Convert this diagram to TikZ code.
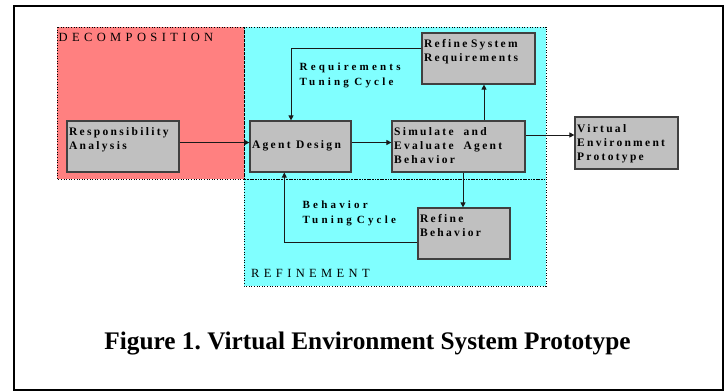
\documentclass[tikz,border=0pt]{standalone}
\usepackage{fontspec}
\setmainfont{Liberation Serif}
% tracked (letter-spaced) faces for the stage boxes and region titles
\newfontfamily\trackedbold[LetterSpace=20]{Liberation Serif}
\newfontfamily\trackedcaps[LetterSpace=35]{Liberation Serif}
\newfontfamily\cyclefont[LetterSpace=29]{Liberation Serif}
% explicit gap between words of tracked text
\newcommand\wgap[1]{\hspace{#1pt}}
\usetikzlibrary{arrows.meta}

\definecolor{decompred}{HTML}{FF8080}
\definecolor{refinecyan}{HTML}{80FFFF}
\definecolor{boxgray}{HTML}{C0C0C0}
\definecolor{boxline}{HTML}{404040}
\definecolor{wire}{HTML}{1A1A1A}

\begin{document}
\frenchspacing
\begin{tikzpicture}[x=1pt,y=-1pt,
  region/.style={draw=black, line width=0.7pt, dash pattern=on 1pt off 1.6pt},
  stage/.style={rectangle, draw=boxline, fill=boxgray, line width=1.2pt, inner sep=0pt},
  stagetext/.style={anchor=base west, inner sep=0pt, text width=120pt, align=left,
    font=\trackedbold\bfseries\fontsize{11.5}{14}\selectfont},
  cyclelabel/.style={anchor=base west, inner sep=0pt, text width=110pt, align=left,
    font=\cyclefont\bfseries\fontsize{11}{15}\selectfont},
  regionlabel/.style={anchor=base west, inner sep=0pt,
    font=\trackedcaps\fontsize{12.5}{14}\selectfont},
  flow/.style={draw=wire, line width=0.9pt, -{Triangle[length=5pt,width=5pt]}}
]
\useasboundingbox (0,0) rectangle (726,391);

% outer frame
\draw[line width=2pt] (14,6) rectangle (723,390);

% process regions
\fill[decompred]  (57,27)  rectangle (244,179);
\fill[refinecyan] (244,27) rectangle (546,286);
\draw[region] (57,27)  rectangle (244,179);
\draw[region] (244,27) rectangle (546,179);
\draw[region] (244,179) rectangle (546,286);

\node[regionlabel] (decomp-title) at (58.5,41.7) {DECOMPOSITION};
\node[regionlabel] (refine-title) at (251,277) {REFINEMENT};

% stages
\node[stage, minimum width=112pt, minimum height=51pt] (resp)    at (123,146.5)   {};
\node[stage, minimum width=101pt, minimum height=51pt] (agent)   at (300.5,146.5) {};
\node[stage, minimum width=133pt, minimum height=51pt] (sim)     at (458.5,146.5) {};
\node[stage, minimum width=113pt, minimum height=51pt] (reqsys)  at (478.5,58.5)  {};
\node[stage, minimum width=103pt, minimum height=52pt] (virtual) at (626.5,143)   {};
\node[stage, minimum width=92pt,  minimum height=51pt] (refbeh)  at (464,233.5)   {};

\node[stagetext] (resp-t)    at ([xshift=2.5pt,yshift=-15pt]resp.north west)    {Responsibility\\Analysis};
\node[stagetext] (agent-t)   at ([xshift=2.5pt,yshift=-28pt]agent.north west)   {Agent\wgap{5.5}Design};
\node[stagetext] (sim-t)     at ([xshift=2.5pt,yshift=-15pt]sim.north west)     {Simulate\wgap{10}and\\Evaluate\wgap{10}Agent\\Behavior};
\node[stagetext] (reqsys-t)  at ([xshift=2.5pt,yshift=-15pt]reqsys.north west)  {Refine\wgap{3.5}System\\Requirements};
\node[stagetext] (virtual-t) at ([xshift=2.5pt,yshift=-16pt]virtual.north west) {Virtual\\Environment\\Prototype};
\node[stagetext] (refbeh-t)  at ([xshift=2.5pt,yshift=-15pt]refbeh.north west)  {Refine\\Behavior};

% cycle labels
\node[cyclelabel] (req-cycle) at (299.5,70)  {Requirements\\Tuning\wgap{5.5}Cycle};
\node[cyclelabel] (beh-cycle) at (302.5,208.3) {Behavior\\Tuning\wgap{5}Cycle};

% connector end points
\coordinate (resp-out)   at ([yshift=4pt]resp.east);
\coordinate (agent-out)  at ([yshift=4pt]agent.east);
\coordinate (sim-right)  at ([yshift=11.5pt]sim.east);
\coordinate (sim-up)     at ([xshift=25.5pt]sim.north);
\coordinate (sim-down)   at ([xshift=4.5pt]sim.south);
\coordinate (req-back)   at ([yshift=10.5pt]reqsys.west);
\coordinate (beh-back)   at ([yshift=-9.2pt]refbeh.west);
\coordinate (agent-top)  at ([xshift=-9.5pt]agent.north);
\coordinate (agent-bot)  at ([xshift=-16.2pt]agent.south);

% flows
\draw[flow] (resp-out) -- (resp-out -| agent.west);
\draw[flow] (agent-out) -- (agent-out -| sim.west);
\draw[flow] (sim-right) -- (sim-right -| virtual.west);
\draw[flow] (sim-up) -- (sim-up |- reqsys.south);
\draw[flow] (sim-down) -- (sim-down |- refbeh.north);
\draw[flow] (req-back) -| (agent-top);
\draw[flow] (beh-back) -| (agent-bot);

% caption
\node[anchor=base, inner sep=0pt, font=\bfseries\fontsize{25.3}{30}\selectfont] (caption)
  at (367.5,349.3) {Figure 1. Virtual Environment System Prototype};
\end{tikzpicture}
\end{document}
